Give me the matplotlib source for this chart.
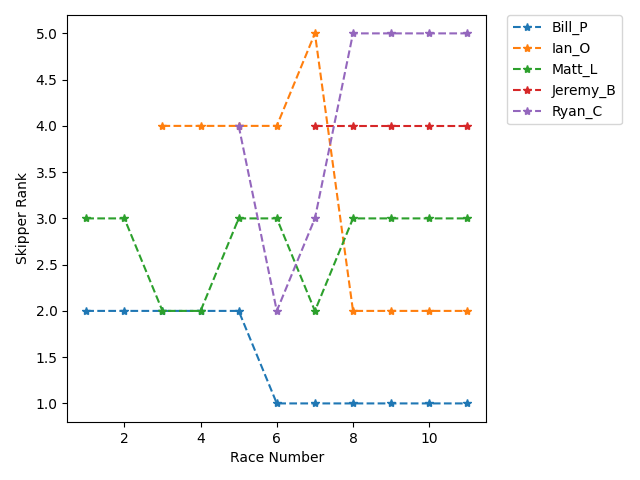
import matplotlib
matplotlib.use("Agg")
import matplotlib.pyplot as plt

skippers = ["Bill_P", "Ian_O", "Matt_L", "Jeremy_B", "Ryan_C"]

bill_races = [1, 2, 3, 4, 5, 6, 7, 8, 9, 10, 11]
bill_rank = [2, 2, 2, 2, 2, 1, 1, 1, 1, 1, 1]

ian_races = [3, 4, 5, 6, 7, 8, 9, 10, 11]
ian_rank = [4, 4, 4, 4, 5, 2, 2, 2, 2]

matt_races = [1, 2, 3, 4, 5, 6, 7, 8, 9, 10, 11]
matt_rank = [3, 3, 2, 2, 3, 3, 2, 3, 3, 3, 3]

jeremy_races = [7, 8, 9, 10, 11]
jeremy_rank = [4, 4, 4, 4, 4]

ryan_races = [5, 6, 7, 8, 9, 10, 11]
ryan_rank = [4, 2, 3, 5, 5, 5, 5]

series = [
    (bill_races, bill_rank),
    (ian_races, ian_rank),
    (matt_races, matt_rank),
    (jeremy_races, jeremy_rank),
    (ryan_races, ryan_rank),
]

fig, ax = plt.subplots(figsize=(6.4, 4.8), dpi=100)
for name, (x, y) in zip(skippers, series):
    ax.plot(x, y, linestyle="--", marker="*", label=name)

ax.set_xlabel("Race Number")
ax.set_ylabel("Skipper Rank")
ax.legend(bbox_to_anchor=(1.05, 1), loc="upper left", borderaxespad=0.)
fig.subplots_adjust(left=0.105, right=0.76, bottom=0.121, top=0.969)
fig.savefig("out.png")
